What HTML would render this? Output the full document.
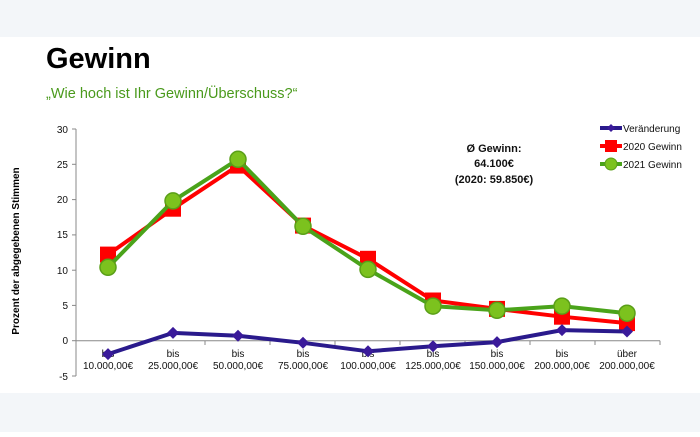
<!DOCTYPE html>
<html><head><meta charset="utf-8"><style>
body{margin:0;width:700px;height:432px;overflow:hidden;background:#fff;font-family:"Liberation Sans",Arial,sans-serif}
</style></head><body>
<svg width="700" height="432" viewBox="0 0 700 432" xmlns="http://www.w3.org/2000/svg" font-family="Liberation Sans, Arial, sans-serif">
<rect x="0" y="0" width="700" height="37" fill="#f3f6f9"/>
<rect x="0" y="393" width="700" height="39" fill="#f3f6f9"/>
<text x="46" y="68" font-size="29" font-weight="bold" fill="#000">Gewinn</text>
<text x="46" y="98" font-size="14.5" fill="#4a9a1c">„Wie hoch ist Ihr Gewinn/Überschuss?“</text>
<text transform="translate(19,251) rotate(-90)" text-anchor="middle" font-size="10" font-weight="bold" fill="#000">Prozent der abgegebenen Stimmen</text>
<g stroke="#888" stroke-width="1" fill="none">
<line x1="76" y1="129" x2="76" y2="376"/>
<line x1="72" y1="129" x2="76" y2="129"/><line x1="72" y1="164.3" x2="76" y2="164.3"/><line x1="72" y1="199.6" x2="76" y2="199.6"/><line x1="72" y1="234.9" x2="76" y2="234.9"/><line x1="72" y1="270.2" x2="76" y2="270.2"/><line x1="72" y1="305.4" x2="76" y2="305.4"/><line x1="72" y1="340.7" x2="76" y2="340.7"/><line x1="72" y1="376" x2="76" y2="376"/>
<line x1="76" y1="340.7" x2="660" y2="340.7"/>
<line x1="141" y1="340.7" x2="141" y2="345"/><line x1="205" y1="340.7" x2="205" y2="345"/><line x1="270" y1="340.7" x2="270" y2="345"/><line x1="335" y1="340.7" x2="335" y2="345"/><line x1="400" y1="340.7" x2="400" y2="345"/><line x1="465" y1="340.7" x2="465" y2="345"/><line x1="530" y1="340.7" x2="530" y2="345"/><line x1="595" y1="340.7" x2="595" y2="345"/><line x1="660" y1="340.7" x2="660" y2="345"/>
</g>
<g font-size="10" fill="#111" text-anchor="end">
<text x="68" y="133">30</text><text x="68" y="168">25</text><text x="68" y="203">20</text><text x="68" y="238">15</text><text x="68" y="274">10</text><text x="68" y="309">5</text><text x="68" y="344">0</text><text x="68" y="380">-5</text>
</g>
<g font-size="10" fill="#111" text-anchor="middle">
<text x="108" y="357">bis</text><text x="173" y="357">bis</text><text x="238" y="357">bis</text><text x="303" y="357">bis</text><text x="368" y="357">bis</text><text x="433" y="357">bis</text><text x="497" y="357">bis</text><text x="562" y="357">bis</text><text x="627" y="357">über</text>
<text x="108" y="369">10.000,00€</text><text x="173" y="369">25.000,00€</text><text x="238" y="369">50.000,00€</text><text x="303" y="369">75.000,00€</text><text x="368" y="369">100.000,00€</text><text x="433" y="369">125.000,00€</text><text x="497" y="369">150.000,00€</text><text x="562" y="369">200.000,00€</text><text x="627" y="369">200.000,00€</text>
</g>
<polyline fill="none" stroke="#ff0000" stroke-width="4" points="108,254.6 173,208.7 238,165.6 303,225.6 368,258.8 433,300.5 497,308.9 562,316.7 627,323.1"/>
<g fill="#ff0000">
<rect x="100" y="246.6" width="16" height="16"/><rect x="165" y="200.7" width="16" height="16"/><rect x="230" y="157.6" width="16" height="16"/><rect x="295" y="217.6" width="16" height="16"/><rect x="360" y="250.8" width="16" height="16"/><rect x="425" y="292.5" width="16" height="16"/><rect x="489" y="300.9" width="16" height="16"/><rect x="554" y="308.7" width="16" height="16"/><rect x="619" y="315.1" width="16" height="16"/>
</g>
<polyline fill="none" stroke="#4aa31a" stroke-width="4" points="108,267.3 173,200.9 238,159.3 303,226.3 368,269.4 433,306.1 497,310.3 562,306.1 627,313.2"/>
<g fill="#7cc21e" stroke="#5a9f18" stroke-width="1.5">
<circle cx="108" cy="267.3" r="8"/><circle cx="173" cy="200.9" r="8"/><circle cx="238" cy="159.3" r="8"/><circle cx="303" cy="226.3" r="8"/><circle cx="368" cy="269.4" r="8"/><circle cx="433" cy="306.1" r="8"/><circle cx="497" cy="310.3" r="8"/><circle cx="562" cy="306.1" r="8"/><circle cx="627" cy="313.2" r="8"/>
</g>
<polyline fill="none" stroke="#2a1a8c" stroke-width="4" points="108,354.1 173,332.9 238,335.8 303,342.8 368,351.3 433,346.3 497,342.1 562,330.1 627,331.5"/>
<g fill="#3a1a9a">
<path d="M108 348.1l6 6-6 6-6-6z"/><path d="M173 326.9l6 6-6 6-6-6z"/><path d="M238 329.8l6 6-6 6-6-6z"/><path d="M303 336.8l6 6-6 6-6-6z"/><path d="M368 345.3l6 6-6 6-6-6z"/><path d="M433 340.3l6 6-6 6-6-6z"/><path d="M497 336.1l6 6-6 6-6-6z"/><path d="M562 324.1l6 6-6 6-6-6z"/><path d="M627 325.5l6 6-6 6-6-6z"/>
</g>
<g font-size="11" font-weight="bold" fill="#111" text-anchor="middle">
<text x="494" y="152">Ø Gewinn:</text><text x="494" y="167">64.100€</text><text x="494" y="183">(2020: 59.850€)</text>
</g>
<line x1="600" y1="128" x2="622" y2="128" stroke="#2a1a8c" stroke-width="4"/><path d="M611 124l4 4-4 4-4-4z" fill="#3a1a9a"/>
<line x1="600" y1="146" x2="622" y2="146" stroke="#ff0000" stroke-width="4"/><rect x="605" y="140" width="12" height="12" fill="#ff0000"/>
<line x1="600" y1="164" x2="622" y2="164" stroke="#4aa31a" stroke-width="4"/><circle cx="611" cy="164" r="6" fill="#7cc21e" stroke="#5a9f18"/>
<g font-size="10" fill="#111">
<text x="623" y="132">Veränderung</text><text x="623" y="150">2020 Gewinn</text><text x="623" y="168">2021 Gewinn</text>
</g>
</svg>
</body></html>
